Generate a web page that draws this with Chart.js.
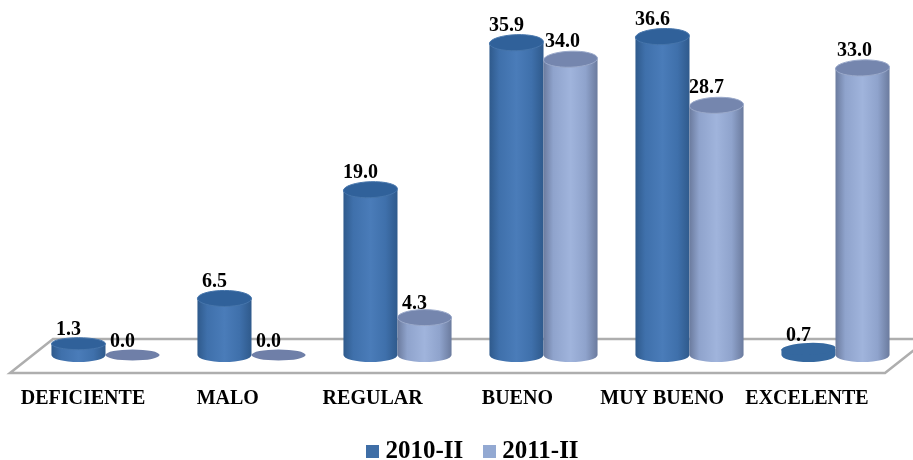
<!DOCTYPE html>
<html>
<head>
<meta charset="utf-8">
<title>Niveles 2010-II / 2011-II</title>
<script src="https://cdn.jsdelivr.net/npm/chart.js@4/dist/chart.umd.min.js"></script>
<style>
  html, body { margin: 0; padding: 0; background: #fff; }
  #wrap { width: 913px; height: 460px; }
</style>
</head>
<body>
<div id="wrap"><canvas id="grafico"></canvas></div>
<script>
var categorias = ["DEFICIENTE", "MALO", "REGULAR", "BUENO", "MUY BUENO", "EXCELENTE"];
var valores2010 = [1.3, 6.5, 19.0, 35.9, 36.6, 0.7];
var valores2011 = [0.0, 0.0, 4.3, 34.0, 28.7, 33.0];

var fuente = "'Liberation Serif', 'Times New Roman', serif";

var tonos = [
  { borde: "#2f5a8c", medio: "#3f70ab", centro: "#4a7cb9", tapa: "#30619a", aro: "#4675ab", plano: "#35689f" },
  { borde: "#6b7b9e", medio: "#8fa3cc", centro: "#a0b4dc", tapa: "#7586ae", aro: "#9aa9ca", plano: "#6f7fa8" }
];

// cuadradito de la leyenda
function cuadro(color) {
  var c = document.createElement("canvas");
  c.width = 13;
  c.height = 13;
  var g = c.getContext("2d");
  g.fillStyle = color;
  g.fillRect(0, 0, 13, 13);
  return c;
}

function elipse(ctx, x, y, rx, ry, giro) {
  ctx.beginPath();
  ctx.ellipse(x, y, rx, ry, giro, 0, Math.PI * 2);
  ctx.closePath();
}

// dibuja un cilindro a partir de la barra calculada por Chart.js
function cilindro(ctx, bar, valor, tono) {
  var rx = bar.width / 2;
  var x = bar.x;
  var y = bar.y;
  var base = bar.base;

  if (valor === 0) {
    elipse(ctx, x, base, rx, 5.5, 0);
    ctx.fillStyle = tono.plano;
    ctx.fill();
    return;
  }

  var ryBase = 7;
  var ryTapa = valor < 2 ? 6 : 8;
  var giro = valor > 10 ? -0.035 : 0;
  var casiPlano = valor < 1;
  var grad = ctx.createLinearGradient(x - rx, 0, x + rx, 0);
  grad.addColorStop(0, tono.borde);
  grad.addColorStop(0.18, tono.medio);
  grad.addColorStop(0.5, tono.centro);
  grad.addColorStop(0.78, tono.medio);
  grad.addColorStop(1, tono.borde);

  ctx.beginPath();
  ctx.moveTo(x - rx, y);
  ctx.lineTo(x - rx, base);
  ctx.ellipse(x, base, rx, ryBase, 0, Math.PI, 0, true);
  ctx.lineTo(x + rx, y);
  ctx.closePath();
  ctx.fillStyle = casiPlano ? tono.plano : grad;
  ctx.fill();

  elipse(ctx, x, y, rx, ryTapa, casiPlano ? -0.04 : giro);
  ctx.fillStyle = casiPlano ? tono.plano : tono.tapa;
  ctx.fill();
  if (!casiPlano) {
    ctx.strokeStyle = tono.aro;
    ctx.lineWidth = 1;
    ctx.stroke();
  }
}

var cilindros = {
  id: "cilindros",
  afterLayout: function (chart) {
    // las etiquetas del eje no deben recortarse contra la leyenda
    chart.scales.x.bottom += 12;
    chart.legend.left += 5;
    chart.legend.right += 5;
    chart.legend.top += 7;
  },
  // el piso va debajo de las barras
  beforeDatasetsDraw: function (chart) {
    var ctx = chart.ctx;
    var area = chart.chartArea;
    var yFrente = area.bottom + 18;
    var yFondo = area.bottom - 16;
    ctx.save();
    ctx.beginPath();
    ctx.moveTo(area.left - 22.5, yFrente);
    ctx.lineTo(area.left + 20.5, yFondo);
    ctx.lineTo(950, yFondo);
    ctx.lineTo(area.right - 23.5 + 43, yFrente - 34);
    ctx.lineTo(area.right - 23.5, yFrente);
    ctx.closePath();
    ctx.strokeStyle = "#aeaeae";
    ctx.lineWidth = 2.5;
    ctx.lineJoin = "miter";
    ctx.stroke();
    ctx.restore();
  },
  // las barras normales no se pintan, se reemplazan por cilindros
  beforeDatasetDraw: function () {
    return false;
  },
  afterDatasetsDraw: function (chart) {
    var ctx = chart.ctx;
    var m0 = chart.getDatasetMeta(0).data;
    var m1 = chart.getDatasetMeta(1).data;
    ctx.save();
    for (var i = 0; i < categorias.length; i++) {
      cilindro(ctx, m0[i], valores2010[i], tonos[0]);
      cilindro(ctx, m1[i], valores2011[i], tonos[1]);
    }
    // etiquetas de valor encima de todo
    ctx.fillStyle = "#000";
    ctx.font = "bold 20px " + fuente;
    ctx.textAlign = "center";
    ctx.textBaseline = "middle";
    [[m0, valores2010], [m1, valores2011]].forEach(function (par, d) {
      par[0].forEach(function (bar, i) {
        var v = par[1][i];
        ctx.fillText(v.toFixed(1), bar.x - (d === 1 && v > 30 ? 8 : 10), bar.y - (v < 5 ? 13.5 : 17));
      });
    });
    ctx.restore();
  }
};

new Chart(document.getElementById("grafico"), {
  type: "bar",
  data: {
    labels: categorias,
    datasets: [
      { label: "2010-II", data: valores2010, backgroundColor: "#3f6ea6", pointStyle: cuadro("#3f6ea6") },
      { label: "2011-II", data: valores2011, backgroundColor: "#93a9d2", pointStyle: cuadro("#93a9d2") }
    ]
  },
  plugins: [cilindros],
  options: {
    responsive: true,
    maintainAspectRatio: false,
    animation: false,
    layout: { autoPadding: false, padding: { left: 32.5, right: 4.5, top: 7, bottom: 0 } },
    datasets: { bar: { barPercentage: 1, categoryPercentage: 0.7466 } },
    scales: {
      x: {
        grid: { display: false },
        border: { display: false },
        afterFit: function (scale) {
          scale.height = 51;
          scale.paddingLeft = 0;
          scale.paddingRight = 0;
          // los rotulos quedan corridos por la perspectiva del piso
          scale.getPixelForTick = function (i) {
            return Chart.CategoryScale.prototype.getPixelForTick.call(this, i) - 22.5 - i * 1.2;
          };
        },
        ticks: {
          color: "#000",
          padding: 24,
          maxRotation: 0,
          autoSkip: false,
          font: { family: fuente, weight: "bold", size: 20 }
        }
      },
      y: { display: false, min: 0, max: 40 }
    },
    plugins: {
      tooltip: { enabled: false },
      legend: {
        position: "bottom",
        maxHeight: 54,
        labels: {
          usePointStyle: true,
          pointStyleWidth: 0.5,
          padding: 26,
          color: "#000",
          font: { family: fuente, weight: "bold", size: 25 }
        }
      }
    }
  }
});
</script>
</body>
</html>
